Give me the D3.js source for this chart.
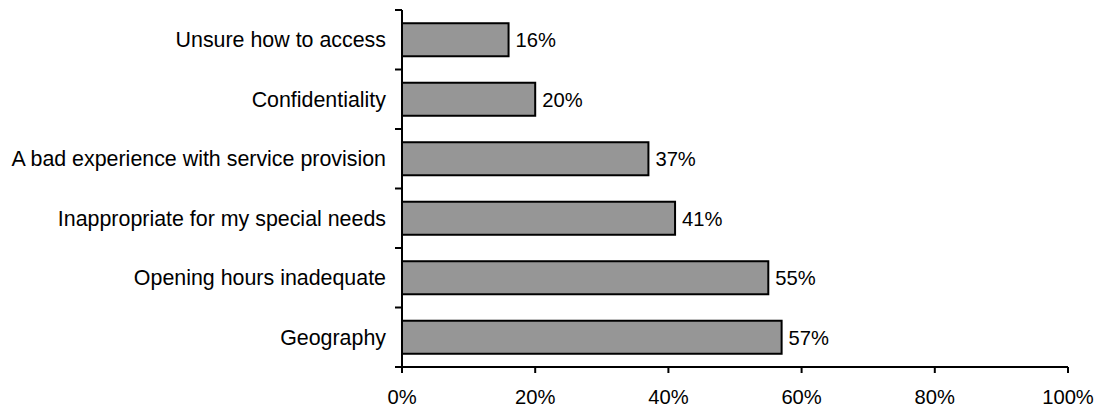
<!DOCTYPE html>
<html><head><meta charset="utf-8">
<script src="https://cdn.jsdelivr.net/npm/d3@7"></script>
<style>body{margin:0;background:#fff}svg{display:block}text{font-family:"Liberation Sans",Arial,sans-serif;fill:#000}</style>
</head><body><svg id="c" width="1096" height="412"></svg>
<script>
const categories = ["Unsure how to access","Confidentiality","A bad experience with service provision","Inappropriate for my special needs","Opening hours inadequate","Geography"];
const values = [16,20,37,41,55,57];
const xTicks = [0,20,40,60,80,100];

const svg = d3.select("#c");
const x = d3.scaleLinear().domain([0,100]).range([402,1068]);
const y = d3.scaleBand().domain(categories).range([10,367]).paddingInner(0.445).paddingOuter(0.2225);
const fsCat = 21.4, fsNum = 20.2;

// bars
svg.selectAll("rect.bar").data(values).enter().append("rect")
  .attr("x", x(0)).attr("y", (d,i)=>y(categories[i]))
  .attr("width", d=>x(d)-x(0)).attr("height", y.bandwidth())
  .attr("fill","#969696").attr("stroke","#000").attr("stroke-width",2);

// value labels
svg.selectAll("text.val").data(values).enter().append("text")
  .attr("x", d=>x(d)+7).attr("y",(d,i)=>y(categories[i])+y.bandwidth()/2)
  .attr("dy","0.36em").style("font-size",fsNum+"px").text(d=>d+"%");

// y axis
const yb = d3.scaleLinear().domain([0,6]).range([10,367]);
const ya = svg.append("g");
ya.append("line").attr("x1",402).attr("x2",402).attr("y1",yb(0)).attr("y2",373).attr("stroke","#000").attr("stroke-width",2);
ya.selectAll("line.t").data(d3.range(0,7)).enter().append("line")
  .attr("x1",395).attr("x2",402).attr("y1",d=>yb(d)).attr("y2",d=>yb(d)).attr("stroke","#000").attr("stroke-width",2);
ya.selectAll("text").data(categories).enter().append("text")
  .attr("x",386).attr("y",d=>y(d)+y.bandwidth()/2).attr("dy","0.35em")
  .attr("text-anchor","end").style("font-size",fsCat+"px").text(d=>d);

// x axis
const xa = svg.append("g");
xa.append("line").attr("x1",x(0)).attr("x2",x(100)).attr("y1",367).attr("y2",367).attr("stroke","#000").attr("stroke-width",2);
xa.selectAll("line.t").data(xTicks).enter().append("line")
  .attr("x1",d=>x(d)).attr("x2",d=>x(d)).attr("y1",367).attr("y2",373).attr("stroke","#000").attr("stroke-width",2);
xa.selectAll("text").data(xTicks).enter().append("text")
  .attr("x",d=>x(d)).attr("y",404).attr("text-anchor","middle").style("font-size",fsNum+"px").text(d=>d+"%");
</script></body></html>
